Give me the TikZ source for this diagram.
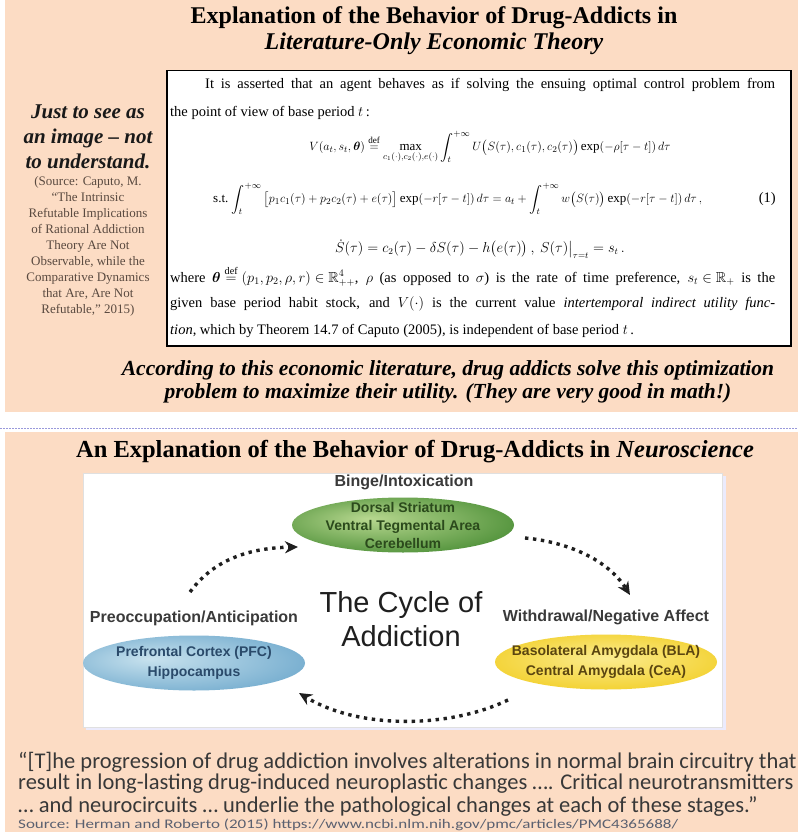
\documentclass[tikz,border=0pt]{standalone}
\usepackage{amsmath,amssymb}
\usepackage{graphicx}
\usepackage{fontspec}
\setmainfont{Liberation Serif}
\newfontfamily\sansf{Liberation Sans}
\newfontfamily\calf{Carlito}
\usetikzlibrary{arrows.meta,shapes.geometric}
\definecolor{peach}{HTML}{FCDCC4}
\definecolor{srcbrown}{HTML}{5A4A40}
\definecolor{cyctext}{HTML}{3A3A3A}
\definecolor{greenin}{HTML}{B8D890}
\definecolor{greenout}{HTML}{3F862C}
\definecolor{bluein}{HTML}{C8E2EE}
\definecolor{blueout}{HTML}{5E9EC6}
\definecolor{yellin}{HTML}{FBEC90}
\definecolor{yellout}{HTML}{F0C810}
\definecolor{gtext}{HTML}{2B4A1C}
\definecolor{btext}{HTML}{2A4A6A}
\definecolor{ytext}{HTML}{5A4510}
\definecolor{quotec}{HTML}{383838}
\definecolor{srcblue}{HTML}{5A6070}
\pgfdeclareradialshading{greenglow}{\pgfpoint{-8bp}{6bp}}{color(0bp)=(greenin); color(36bp)=(greenout); color(50bp)=(greenout)}
\pgfdeclareradialshading{blueglow}{\pgfpoint{-10bp}{4bp}}{color(0bp)=(bluein); color(40bp)=(blueout); color(50bp)=(blueout)}
\pgfdeclareradialshading{yellglow}{\pgfpoint{0bp}{4bp}}{color(0bp)=(yellin); color(38bp)=(yellout); color(50bp)=(yellout)}
\tikzset{
  boxtxt/.style={inner sep=0pt, font=\fontsize{14.5}{16}\selectfont},
  ttl/.style={font=\bfseries\fontsize{24}{26}\selectfont},
  phase/.style={font=\sansf\bfseries\fontsize{16}{18}\selectfont, text=cyctext},
  ellbox/.style={ellipse, minimum width=222pt, minimum height=55pt, inner sep=0pt},
  elltxt/.style={font=\sansf\bfseries\fontsize{14}{18}\selectfont, align=center},
  cyc/.style={line width=3.4pt, dash pattern=on 3.4pt off 4.6pt, draw=black!88, -{Stealth[length=13pt,width=12pt]}},
  quote/.style={anchor=west, inner sep=0pt, font=\calf\fontsize{22.5}{24}\selectfont, text=quotec}
}
\begin{document}
\begin{tikzpicture}[x=1pt,y=-1pt]
\useasboundingbox (0,0) rectangle (798,832);
\fill[white] (0,0) rectangle (798,832);
\fill[peach] (5,0) rectangle (798,412);
\fill[peach] (5,432) rectangle (798,832);
\draw[draw=black!35!blue!40, dash pattern=on 1.5pt off 1.5pt, line width=1pt] (0,428) -- (798,428);

% ---- top section
\node[ttl] (t1) at (434,18) {Explanation of the Behavior of Drug-Addicts in};
\node[ttl, font=\bfseries\itshape\fontsize{24}{26}\selectfont] (t2) at (434,44) {Literature-Only Economic Theory};

\node[draw=black, line width=1.5pt, fill=white, minimum width=624pt, minimum height=275pt, anchor=north west, inner sep=0pt] (box) at (166,70) {};

\node[boxtxt, anchor=west] (l1) at (205,85) {\makebox[570pt][s]{It is asserted that an agent behaves as if solving the ensuing optimal control problem from}};
\node[boxtxt, anchor=west] (l2) at (170,113) {the point of view of base period $t$\,:};
\node[boxtxt, font=\fontsize{13}{15}\selectfont] (eq1) at (490,147) {$\displaystyle V(a_t,s_t,\boldsymbol{\theta})\overset{\mathrm{def}}{=}\max_{c_1(\cdot),c_2(\cdot),e(\cdot)}\int_t^{+\infty}U\big(S(\tau),c_1(\tau),c_2(\tau)\big)\exp(-\rho[\tau-t])\,d\tau$};
\node[boxtxt, anchor=west, font=\fontsize{13}{15}\selectfont] (eq2) at (213,199) {s.t.\ $\displaystyle\int_t^{+\infty}\big[p_1c_1(\tau)+p_2c_2(\tau)+e(\tau)\big]\exp(-r[\tau-t])\,d\tau=a_t+\int_t^{+\infty}w\big(S(\tau)\big)\exp(-r[\tau-t])\,d\tau\,,$};
\node[boxtxt, anchor=east] (eqn) at (776,199) {(1)};
\node[boxtxt, font=\fontsize{13.5}{15}\selectfont] (eq3) at (480,249) {$\dot S(\tau)=c_2(\tau)-\delta S(\tau)-h\big(e(\tau)\big)\,,\ S(\tau)\big|_{\tau=t}=s_t\,.$};
\node[boxtxt, anchor=west] (l4) at (170,276) {\makebox[605pt][s]{where \mbox{$\boldsymbol{\theta}\overset{\mathrm{def}}{=}(p_1,p_2,\rho,r)\in\mathbb{R}^4_{++}$}, \mbox{$\rho$} (as opposed to \mbox{$\sigma$}) is the rate of time preference, \mbox{$s_t\in\mathbb{R}_+$} is the}};
\node[boxtxt, anchor=west] (l5) at (170,304) {\makebox[605pt][s]{given base period habit stock, and \mbox{$V(\cdot)$} is the current value \emph{intertemporal indirect utility func-}}};
\node[boxtxt, anchor=west] (l6) at (170,331) {\emph{tion}, which by Theorem 14.7 of Caputo (2005), is independent of base period $t$\,.};

\node[align=center, font=\bfseries\itshape\fontsize{21}{25}\selectfont, text=black!90] (just) at (88,137) {Just to see as\\an image -- not\\to understand.};
\node[align=center, font=\fontsize{13}{16}\selectfont, text=srcbrown] (src) at (88,246) {(Source: Caputo, M.\\“The Intrinsic\\Refutable Implications\\of Rational Addiction\\Theory Are Not\\Observable, while the\\Comparative Dynamics\\that Are, Are Not\\Refutable,” 2015)};

\node[font=\bfseries\itshape\fontsize{21.5}{24}\selectfont] (acc1) at (448,370) {According to this economic literature, drug addicts solve this optimization};
\node[font=\bfseries\itshape\fontsize{21.5}{24}\selectfont] (acc2) at (448,393) {problem to maximize their utility. (They are very good in math!)};

% ---- bottom section
\node[ttl, font=\bfseries\fontsize{24.5}{26}\selectfont] (t3) at (415,452) {An Explanation of the Behavior of Drug-Addicts in \textit{Neuroscience}};

\fill[black!10!blue!8] (86,476) rectangle (726,730);
\draw[fill=white, draw=black!12] (83,473) rectangle (722,727);

\node[phase] (binge) at (404,482) {Binge/Intoxication};
\node[ellbox, shading=greenglow] (green) at (403,525) {};
\node[elltxt, text=gtext] (greent) at (green.center) {Dorsal Striatum\\Ventral Tegmental Area\\Cerebellum};

\node[phase] (preo) at (194,618) {Preoccupation/Anticipation};
\node[ellbox, shading=blueglow] (blue) at (194,663) {};
\node[elltxt, text=btext, font=\sansf\bfseries\fontsize{14}{20}\selectfont] (bluet) at (blue.center) {Prefrontal Cortex (PFC)\\Hippocampus};

\node[phase] (withd) at (606,617) {Withdrawal/Negative Affect};
\node[ellbox, shading=yellglow] (yell) at (606,662) {};
\node[elltxt, text=ytext, font=\sansf\bfseries\fontsize{14}{20}\selectfont] (yellt) at (yell.center) {Basolateral Amygdala (BLA)\\Central Amygdala (CeA)};

\node[align=center, font=\sansf\fontsize{29}{34}\selectfont, text=black!88] (cycle) at (401,619) {The Cycle of\\Addiction};

\coordinate (a1s) at (190,592);
\coordinate (a1e) at (298,547);
\draw[cyc] (a1s) .. controls (212,562) and (245,548) .. (a1e);
\coordinate (a2s) at (525,538);
\coordinate (a2e) at (630,595);
\draw[cyc] (a2s) .. controls (568,542) and (608,560) .. (a2e);
\coordinate (a3s) at (508,700);
\coordinate (a3e) at (299,693);
\draw[cyc] (a3s) .. controls (450,728) and (360,730) .. (a3e);

\node[quote] (q1) at (18,762) {“[T]he progression of drug addiction involves alterations in normal brain circuitry that};
\node[quote] (q2) at (18,784) {result in long-lasting drug-induced neuroplastic changes …. Critical neurotransmitters};
\node[quote] (q3) at (18,806) {… and neurocircuits … underlie the pathological changes at each of these stages.”};
\node[quote, font=\calf\fontsize{13}{14}\selectfont, text=srcblue] (q4) at (18,825) {\resizebox{660pt}{!}{\scalebox{1}[0.77]{Source: Herman and Roberto (2015) https://www.ncbi.nlm.nih.gov/pmc/articles/PMC4365688/}}};
\end{tikzpicture}
\end{document}
